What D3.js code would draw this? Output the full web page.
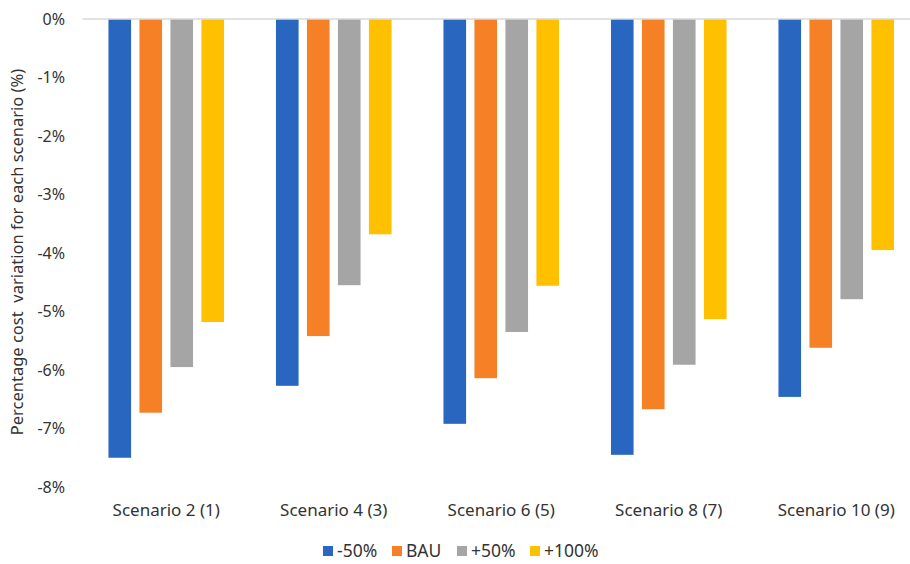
<!DOCTYPE html>
<html>
<head>
<meta charset="utf-8">
<script src="https://cdn.jsdelivr.net/npm/d3@7"></script>
<style>
  html, body { margin: 0; padding: 0; background: #fff; }
  svg { display: block; font-family: "Noto Sans", "Open Sans", sans-serif; }
</style>
</head>
<body>
<svg id="chart" width="910" height="564"></svg>
<script>
// Cost variation per scenario (%), one array per demand case
const categories = ["Scenario 2 (1)", "Scenario 4 (3)", "Scenario 6 (5)", "Scenario 8 (7)", "Scenario 10 (9)"];
const seriesNames = ["-50%", "BAU", "+50%", "+100%"];
const minus50 = [-7.50, -6.27, -6.92, -7.45, -6.46];
const bau     = [-6.73, -5.42, -6.14, -6.67, -5.62];
const plus50  = [-5.95, -4.55, -5.35, -5.91, -4.79];
const plus100 = [-5.18, -3.68, -4.56, -5.13, -3.95];
const yTicks  = [0, -1, -2, -3, -4, -5, -6, -7, -8];
const colors  = ["#2966c0", "#f58025", "#a5a5a5", "#ffc000"];

const series = [minus50, bau, plus50, plus100];

const svg = d3.select("#chart");
const plot = { left: 82.5, right: 920, top: 19, bottom: 487 };

const x = d3.scaleBand()
  .domain(categories)
  .range([plot.left, plot.right])
  .paddingInner(0.31)
  .paddingOuter(0.155);

const inner = d3.scaleBand()
  .domain(seriesNames)
  .range([0, x.bandwidth()])
  .paddingInner(0.27);

const y = d3.scaleLinear().domain([0, -8]).range([plot.top, plot.bottom]);

// Y axis tick labels (no line, no tick marks)
const yAxis = d3.axisLeft(y)
  .tickValues(yTicks)
  .tickFormat(d => d + "%")
  .tickSize(0)
  .tickPadding(0);
svg.append("g")
  .attr("transform", `translate(65,0)`)
  .call(yAxis)
  .call(g => g.select(".domain").remove())
  .selectAll("text")
  .attr("font-size", 16)
  .attr("font-family", "\"Noto Sans\", sans-serif")
  .attr("fill", "#333");

// Bars
const groups = svg.append("g").selectAll("g")
  .data(series)
  .join("g")
  .attr("fill", (d, i) => colors[i]);

groups.each(function (vals, si) {
  d3.select(this).selectAll("rect")
    .data(vals)
    .join("rect")
    .attr("x", (v, ci) => x(categories[ci]) + inner(seriesNames[si]))
    .attr("width", inner.bandwidth())
    .attr("y", v => y(Math.max(0, v)))
    .attr("height", v => Math.abs(y(v) - y(0)));
});

// Zero line
svg.append("line")
  .attr("x1", plot.left).attr("x2", plot.right)
  .attr("y1", y(0)).attr("y2", y(0))
  .attr("stroke", "#d9d9d9").attr("stroke-width", 1.5);

// Category labels
const xAxis = d3.axisBottom(x).tickSize(0).tickPadding(0);
svg.append("g")
  .attr("transform", `translate(0,504)`)
  .call(xAxis)
  .call(g => g.select(".domain").remove())
  .selectAll("text")
  .attr("font-size", 17)
  .attr("font-family", "\"Noto Sans\", sans-serif")
  .attr("fill", "#333");

// Y axis title
svg.append("text")
  .attr("transform", `translate(23,${(57 + 447) / 2}) rotate(-90)`)
  .attr("text-anchor", "middle")
  .attr("font-size", 16.5)
  .attr("fill", "#333")
  .attr("xml:space", "preserve")
  .style("white-space", "pre")
  .text("Percentage cost  variation for each scenario (%)");

// Legend
const legendItems = seriesNames.map((name, i) => ({ name, color: colors[i] }));
const legend = svg.append("g").attr("transform", "translate(0,551)");
const legendX = [323, 392, 457, 530];
legendItems.forEach((d, i) => {
  const g = legend.append("g").attr("transform", `translate(${legendX[i]},0)`);
  g.append("rect").attr("x", 0).attr("y", -5).attr("width", 10).attr("height", 10).attr("fill", d.color);
  g.append("text").attr("x", 14).attr("y", 0).attr("dy", "0.35em")
    .attr("font-size", 17.5).attr("fill", "#333").text(d.name);
});
</script>
</body>
</html>
